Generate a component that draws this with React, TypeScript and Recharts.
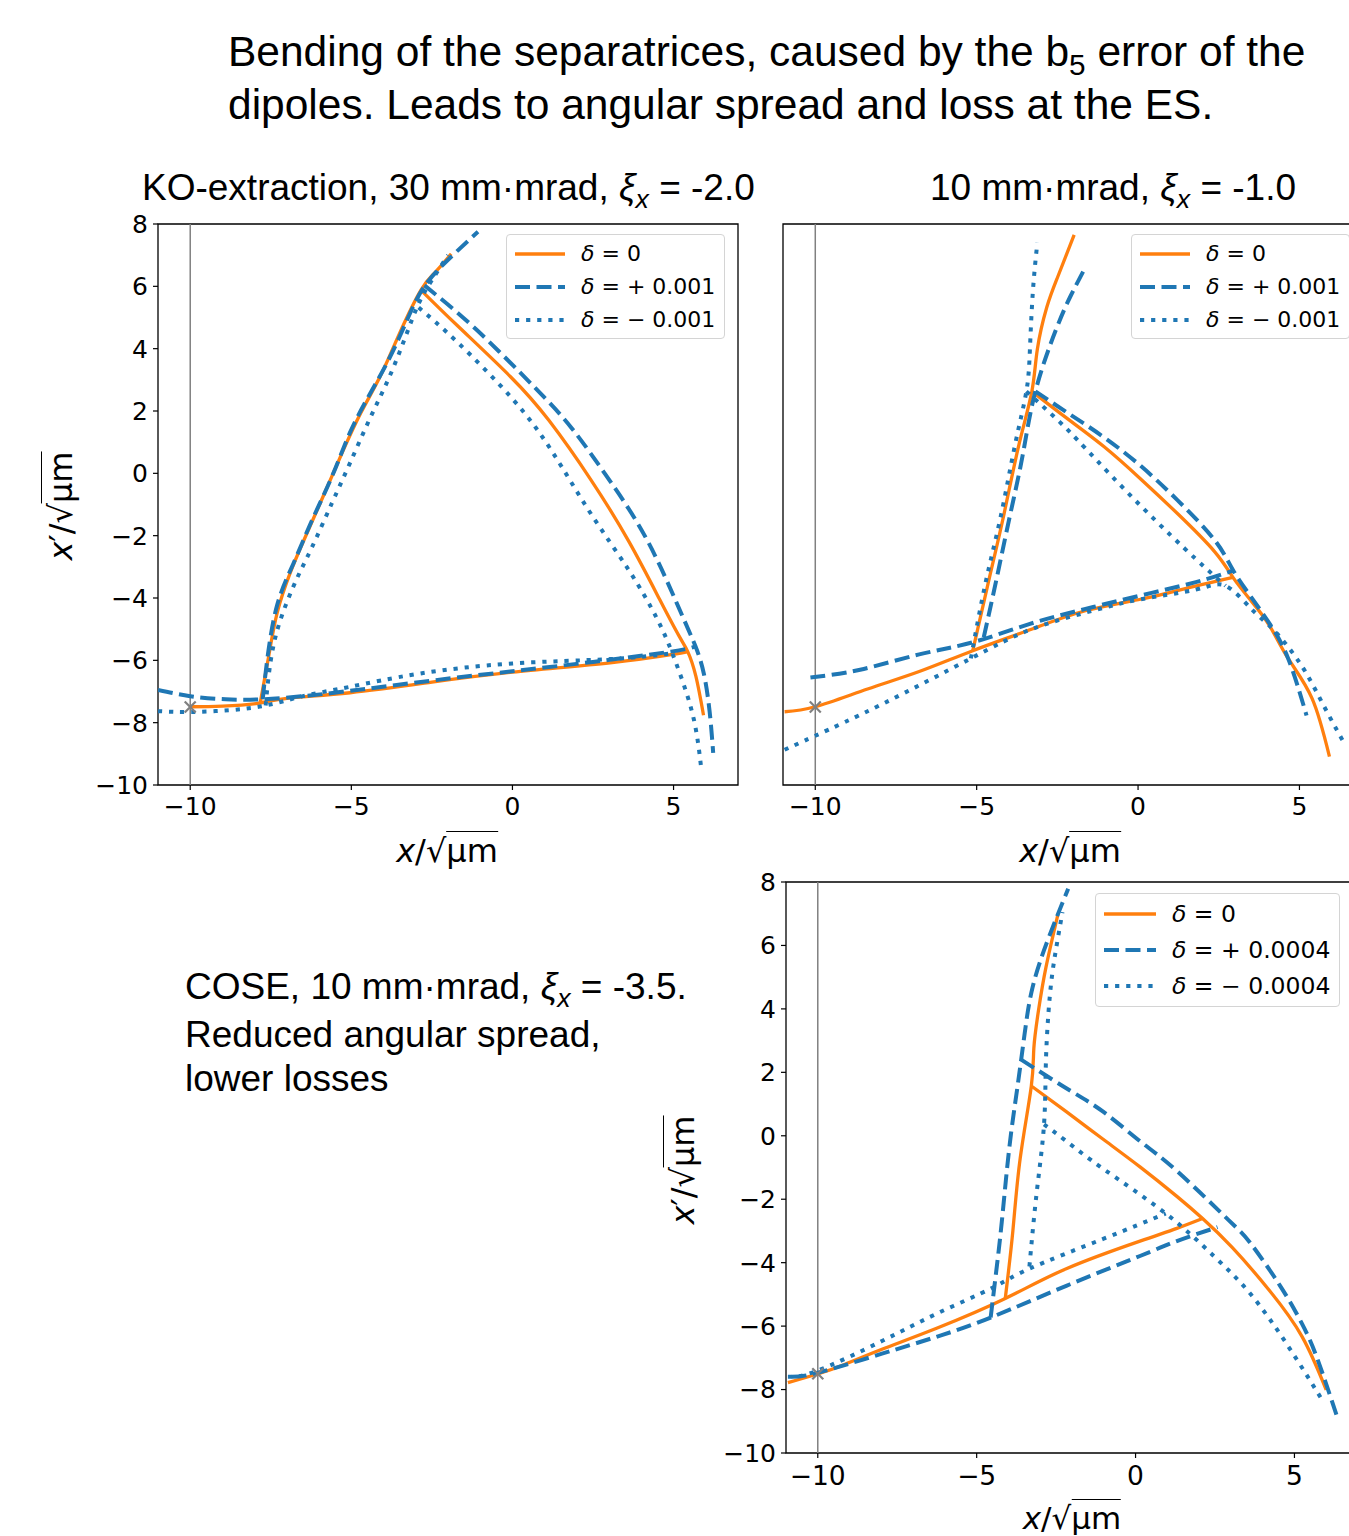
import React from 'react';
import {
  ComposedChart,
  Line,
  Scatter,
  XAxis,
  YAxis,
  ReferenceLine,
  ReferenceArea
} from 'recharts';

// axis ticks shared by all three panels
const X_TICKS = [-10, -5, 0, 5];
const Y_TICKS = [-10, -8, -6, -4, -2, 0, 2, 4, 6, 8];
const X_DOMAIN = [-11, 7];
const Y_DOMAIN = [-10, 8];

// the electrostatic septum position (grey cross)
const ES_MARK = [[-10, -7.5]];

const LEGEND_KO = ['0', '+ 0.001', '− 0.001'];
const LEGEND_COSE = ['0', '+ 0.0004', '− 0.0004'];

// --- KO-extraction, 30 mm·mrad, xi = -2.0 ---
const koZeroLower = [[-10, -7.49], [-9, -7.47], [-7.9, -7.38], [-7, -7.22], [-5.04, -7.04], [-2.5, -6.7], [0, -6.38], [3.03, -6.08], [4.92, -5.82], [5.44, -5.72]];
const koZeroLeft = [[-7.83, -7.38], [-7.57, -5.9], [-7.3, -4.47], [-6.9, -3.2], [-6.47, -2.14], [-5.9, -0.8], [-5.28, 0.67], [-4.7, 1.95], [-4.1, 3.12], [-3.5, 4.5], [-2.84, 5.88], [-2.4, 6.45], [-1.9, 7.04]];
const koZeroRight = [[-2.84, 5.88], [-1.72, 4.75], [-0.06, 3.1], [1.13, 1.7], [2.43, -0.2], [3.62, -2.2], [4.57, -4.05], [5.16, -5.2], [5.44, -5.72], [5.69, -6.5], [5.93, -7.76]];

const koPlusLower = [[-11, -6.95], [-10, -7.15], [-8.9, -7.25], [-7.75, -7.25], [-6.5, -7.15], [-5.05, -6.98], [-2.5, -6.65], [0, -6.35], [2.5, -6.05], [4.92, -5.72], [5.68, -5.55]];
const koPlusLeft = [[-7.75, -7.25], [-7.6, -5.9], [-7.3, -4.22], [-6.8, -2.9], [-6.23, -1.53], [-5.6, -0.1], [-5.05, 1.29], [-4.45, 2.5], [-3.86, 3.61], [-3.3, 4.85], [-2.73, 6.0], [-1.9, 6.95], [-1.07, 7.75]];
const koPlusRight = [[-2.73, 6.03], [-1.13, 4.62], [0.65, 2.8], [1.84, 1.45], [3.03, -0.25], [4.21, -2.2], [5.22, -4.45], [5.68, -5.55], [5.94, -6.43], [6.12, -7.65], [6.23, -8.97]];

const koMinusLower = [[-11, -7.63], [-10, -7.66], [-8.8, -7.6], [-7.66, -7.45], [-6.5, -7.15], [-5.05, -6.85], [-2.91, -6.43], [0, -6.1], [3.03, -5.96], [4.93, -5.78]];
const koMinusLeft = [[-7.66, -7.45], [-7.5, -6.0], [-7.2, -4.7], [-6.7, -3.4], [-6.23, -2.39], [-5.6, -0.95], [-5.05, 0.31], [-4.45, 1.7], [-3.86, 3.0], [-3.35, 4.3], [-2.91, 5.45], [-2.5, 6.2], [-2.0, 7.0]];
const koMinusRight = [[-2.91, 5.32], [-1.72, 4.22], [0, 2.39], [1.25, 0.67], [2.43, -1.29], [3.62, -3.12], [4.45, -4.59], [4.93, -5.69], [5.4, -7.04], [5.7, -8.26], [5.87, -9.57]];

// --- 10 mm·mrad, xi = -1.0 ---
const tenZeroLower = [[-10.95, -7.65], [-10, -7.49], [-8.38, -6.92], [-6.78, -6.36], [-5.12, -5.69], [-3.35, -5.02], [-1.63, -4.41], [0.08, -4.04], [1.34, -3.73], [2.94, -3.34]];
const tenZeroLeft = [[-5.12, -5.69], [-4.61, -3.37], [-4.15, -1.29], [-3.69, 0.92], [-3.29, 2.63], [-3.12, 3.98], [-2.83, 5.32], [-2.49, 6.3], [-1.98, 7.65]];
const tenZeroRight = [[-3.29, 2.63], [-2.21, 1.77], [-1.06, 0.86], [0.08, -0.18], [1.22, -1.29], [2.37, -2.51], [2.94, -3.34], [3.51, -4.1], [4.08, -4.9], [4.65, -5.94], [5.39, -7.22], [5.93, -9.09]];

const tenPlusLower = [[-10.15, -6.55], [-8.61, -6.3], [-6.78, -5.81], [-5.12, -5.42], [-3.35, -4.83], [-1.63, -4.35], [0.08, -3.92], [1.79, -3.49], [2.94, -3.12]];
const tenPlusLeft = [[-4.78, -5.26], [-4.38, -3.37], [-3.98, -1.41], [-3.58, 0.55], [-3.18, 2.63], [-2.55, 4.59], [-2.09, 5.69], [-1.63, 6.61]];
const tenPlusRight = [[-3.18, 2.63], [-2.21, 1.96], [-1.06, 1.16], [0.08, 0.24], [1.22, -0.86], [2.37, -2.14], [2.94, -3.1], [3.51, -3.98], [4.08, -4.83], [4.65, -5.94], [5.22, -7.77]];

const tenMinusLower = [[-10.95, -8.87], [-10, -8.42], [-7.92, -7.4], [-5.18, -5.94], [-3.35, -5.02], [-1.63, -4.47], [0.08, -4.04], [1.79, -3.73], [2.71, -3.61], [3.51, -4.35], [4.08, -4.9], [4.65, -5.57], [5.22, -6.43], [5.79, -7.53], [6.37, -8.63]];
const tenMinusLeft = [[-5.18, -5.94], [-4.72, -3.49], [-4.26, -1.41], [-3.81, 0.92], [-3.46, 2.63], [-3.35, 3.98], [-3.26, 5.81], [-3.12, 7.4]];
const tenMinusRight = [[-3.46, 2.63], [-2.43, 1.65], [-1.63, 0.8], [0.08, -1.04], [1.79, -2.75], [2.71, -3.61]];

// --- COSE, 10 mm·mrad, xi = -3.5 ---
const coseZeroLower = [[-10.94, -7.78], [-10, -7.51], [-9.14, -7.2], [-7.98, -6.73], [-6.24, -6.06], [-4.1, -5.13], [-2.18, -4.19], [0.14, -3.32], [1.3, -2.92], [2.11, -2.61]];
const coseZeroLeft = [[-4.1, -5.13], [-3.86, -2.99], [-3.63, -0.71], [-3.28, 1.57], [-3.2, 2.77], [-3.05, 3.98], [-2.82, 5.31], [-2.44, 6.99]];
const coseZeroRight = [[-3.28, 1.57], [-2.18, 0.76], [-1.02, -0.11], [0.14, -0.98], [1.3, -1.91], [2.11, -2.61], [3.04, -3.52], [4.2, -4.86], [5.24, -6.33], [6.0, -8.01]];

const cosePlusLower = [[-10.82, -7.6], [-10, -7.47], [-7.98, -6.87], [-6.24, -6.33], [-4.56, -5.73], [-2.18, -4.73], [0.14, -3.79], [1.3, -3.32], [2.58, -2.88]];
const cosePlusLeft = [[-4.56, -5.73], [-4.39, -4.32], [-4.21, -2.72], [-3.98, -0.44], [-3.75, 1.3], [-3.6, 2.4], [-3.46, 3.44], [-3.28, 4.51], [-2.88, 5.85], [-2.12, 7.79]];
const cosePlusRight = [[-3.6, 2.4], [-2.18, 1.5], [-1.02, 0.76], [0.14, -0.17], [1.3, -1.11], [2.92, -2.65], [3.62, -3.39], [4.55, -4.73], [5.24, -5.93], [5.71, -7.0], [6.35, -8.88]];

const coseMinusLower = [[-10.94, -7.6], [-10, -7.4], [-7.98, -6.47], [-6.24, -5.6], [-4.5, -4.79], [-3.34, -4.19], [-1.02, -3.25], [0.95, -2.45]];
const coseMinusLeft = [[-3.34, -4.12], [-3.11, -1.78], [-2.88, 0.36], [-2.82, 2.37], [-2.7, 4.38], [-2.53, 5.72], [-2.3, 7.05]];
const coseMinusRight = [[-2.88, 0.36], [-2.18, -0.17], [-1.02, -1.04], [0.95, -2.45], [2.46, -3.79], [3.62, -4.99], [4.78, -6.6], [5.88, -8.34]];

const ORANGE = '#ff7f0e';
const BLUE = '#1f77b4';
const GREY = '#808080';
const DASH = '15 6.5';
const DOT = '4.2 6.9';

const toPts = (a: number[][]) => a.map(([x, y]) => ({ x, y }));

const fmtTick = (v: number) => (v < 0 ? `−${-v}` : `${v}`);

const XMark = (p: any) => {
  const { cx, cy } = p;
  const s = 5.5;
  return (
    <g stroke={GREY} strokeWidth={2.2}>
      <line x1={cx - s} y1={cy - s} x2={cx + s} y2={cy + s} />
      <line x1={cx - s} y1={cy + s} x2={cx + s} y2={cy - s} />
    </g>
  );
};

interface PanelProps {
  left: number;
  top: number;
  plotW: number;
  plotH: number;
  yAxisW: number;
  showYLabels: boolean;
  xTickSize: number;
  xTickMargin: number;
  zero: number[][][];
  plus: number[][][];
  minus: number[][][];
}

function Panel({ left, top, plotW, plotH, yAxisW, showYLabels, xTickSize, xTickMargin, zero, plus, minus }: PanelProps) {
  const margin = { top: 20, right: 10, left: 0, bottom: 0 };
  const xAxisH = 50;
  const width = yAxisW + plotW + margin.right;
  const height = margin.top + plotH + xAxisH;
  const tickStyle = { fill: '#000', fontSize: 25, fontFamily: 'DejaVu Sans' };
  return (
    <div style={{ position: 'absolute', left: left - yAxisW, top: top - margin.top }}>
      <ComposedChart width={width} height={height} margin={margin}>
        <XAxis
          type="number"
          dataKey="x"
          domain={X_DOMAIN}
          ticks={X_TICKS}
          interval={0}
          allowDataOverflow
          height={xAxisH}
          tickSize={5}
          tickMargin={xTickMargin}
          tickFormatter={fmtTick}
          axisLine={false}
          tickLine={{ stroke: '#000', strokeWidth: 1.2 }}
          tick={{ ...tickStyle, fontSize: xTickSize }}
        />
        <YAxis
          type="number"
          dataKey="y"
          domain={Y_DOMAIN}
          ticks={Y_TICKS}
          interval={0}
          allowDataOverflow
          width={yAxisW}
          tickSize={5}
          tickMargin={5}
          tickFormatter={fmtTick}
          axisLine={false}
          tickLine={{ stroke: '#000', strokeWidth: 1.2 }}
          tick={showYLabels ? tickStyle : false}
        />
        <ReferenceLine x={-10} stroke={GREY} strokeWidth={1.5} />
        {zero.map((arm, i) => (
          <Line
            key={`z${i}`}
            data={toPts(arm)}
            dataKey="y"
            type="natural"
            stroke={ORANGE}
            strokeWidth={3.3}
            dot={false}
            activeDot={false}
            isAnimationActive={false}
          />
        ))}
        {plus.map((arm, i) => (
          <Line
            key={`p${i}`}
            data={toPts(arm)}
            dataKey="y"
            type="natural"
            stroke={BLUE}
            strokeWidth={4}
            strokeDasharray={DASH}
            dot={false}
            activeDot={false}
            isAnimationActive={false}
          />
        ))}
        {minus.map((arm, i) => (
          <Line
            key={`m${i}`}
            data={toPts(arm)}
            dataKey="y"
            type="natural"
            stroke={BLUE}
            strokeWidth={4}
            strokeDasharray={DOT}
            dot={false}
            activeDot={false}
            isAnimationActive={false}
          />
        ))}
        <Scatter data={toPts(ES_MARK)} dataKey="y" shape={XMark} isAnimationActive={false} />
        <ReferenceArea
          x1={X_DOMAIN[0]}
          x2={X_DOMAIN[1]}
          y1={Y_DOMAIN[0]}
          y2={Y_DOMAIN[1]}
          fill="none"
          fillOpacity={0}
          stroke="#000"
          strokeWidth={1.3}
        />
      </ComposedChart>
    </div>
  );
}

function LegendBox({ left, top, labels, fontSize, rowGap, lineW }: { left: number; top: number; labels: string[]; fontSize: number; rowGap: number; lineW: number }) {
  const styles = [
    { stroke: ORANGE, w: 3.3, dash: undefined },
    { stroke: BLUE, w: 4, dash: DASH },
    { stroke: BLUE, w: 4, dash: DOT }
  ];
  return (
    <div
      style={{
        position: 'absolute',
        left,
        top,
        padding: '2px 9px 2px 8px',
        border: '1px solid #d4d4d4',
        borderRadius: 4,
        background: 'rgba(255,255,255,0.85)',
        fontFamily: 'DejaVu Sans',
        fontSize,
        lineHeight: `${rowGap}px`,
        whiteSpace: 'nowrap'
      }}
    >
      {labels.map((lab, i) => (
        <div key={lab} style={{ display: 'flex', alignItems: 'center', height: rowGap }}>
          <svg width={lineW} height={10} style={{ marginRight: 16 }}>
            <line x1={0} y1={5} x2={lineW} y2={5} stroke={styles[i].stroke} strokeWidth={styles[i].w} strokeDasharray={styles[i].dash} />
          </svg>
          <span>
            <i>δ</i>
            {i === 0 ? ' = ' : ' =  '}
            {lab}
          </span>
        </div>
      ))}
    </div>
  );
}

function AxisLabel({ prime, fontSize }: { prime?: boolean; fontSize: number }) {
  return (
    <span style={{ fontFamily: 'DejaVu Sans', fontSize, whiteSpace: 'nowrap' }}>
      <i>x</i>
      {prime ? '′' : ''}/√
      <span style={{ borderTop: '1.6px solid #000' }}>μm</span>
    </span>
  );
}

const Xi = () => (
  <span>
    <i>ξ</i>
    <i style={{ fontSize: '0.72em', position: 'relative', top: '0.3em' }}>x</i>
  </span>
);

export default function App() {
  return (
    <div
      style={{
        position: 'absolute',
        left: 0,
        top: 0,
        width: 1349,
        height: 1536,
        overflow: 'hidden',
        background: '#fff',
        fontFamily: '"Liberation Sans", Arial, sans-serif',
        color: '#000'
      }}
    >
      <div style={{ position: 'absolute', left: 228, top: 27, fontSize: 42.5, lineHeight: '49px', whiteSpace: 'nowrap' }}>
        <div>
          Bending of the separatrices, caused by the b
          <span style={{ fontSize: '0.7em', position: 'relative', top: '0.3em' }}>5</span> error of the
        </div>
        <div>dipoles. Leads to angular spread and loss at the ES.</div>
      </div>

      <div style={{ position: 'absolute', left: 142, top: 169, fontSize: 37, lineHeight: '37px', whiteSpace: 'nowrap' }}>
        KO-extraction, 30 mm·mrad, <Xi /> = -2.0
      </div>
      <div style={{ position: 'absolute', left: 930, top: 169, fontSize: 37, lineHeight: '37px', whiteSpace: 'nowrap' }}>
        10 mm·mrad, <Xi /> = -1.0
      </div>
      <div style={{ position: 'absolute', left: 185, top: 965, fontSize: 37, lineHeight: '44.5px', whiteSpace: 'nowrap' }}>
        <div>
          COSE, 10 mm·mrad, <Xi /> = -3.5.
        </div>
        <div>Reduced angular spread,</div>
        <div>lower losses</div>
      </div>

      <Panel left={157.5} top={224} plotW={580} plotH={561} yAxisW={70} showYLabels xTickSize={25} xTickMargin={7}
        zero={[koZeroLower, koZeroLeft, koZeroRight]}
        plus={[koPlusLower, koPlusLeft, koPlusRight]}
        minus={[koMinusLower, koMinusLeft, koMinusRight]} />
      <Panel left={783} top={224} plotW={581} plotH={561} yAxisW={10} showYLabels={false} xTickSize={25} xTickMargin={7}
        zero={[tenZeroLower, tenZeroLeft, tenZeroRight]}
        plus={[tenPlusLower, tenPlusLeft, tenPlusRight]}
        minus={[tenMinusLower, tenMinusLeft, tenMinusRight]} />
      <Panel left={785.5} top={882} plotW={572} plotH={571} yAxisW={70} showYLabels xTickSize={26.5} xTickMargin={8}
        zero={[coseZeroLower, coseZeroLeft, coseZeroRight]}
        plus={[cosePlusLower, cosePlusLeft, cosePlusRight]}
        minus={[coseMinusLower, coseMinusLeft, coseMinusRight]} />

      <LegendBox left={506} top={234} labels={LEGEND_KO} fontSize={22} rowGap={33} lineW={50} />
      <LegendBox left={1131} top={234} labels={LEGEND_KO} fontSize={22} rowGap={33} lineW={50} />
      <LegendBox left={1095} top={893} labels={LEGEND_COSE} fontSize={23.5} rowGap={36} lineW={52} />

      <div style={{ position: 'absolute', left: 447, top: 851, transform: 'translate(-50%, -50%)' }}>
        <AxisLabel fontSize={32} />
      </div>
      <div style={{ position: 'absolute', left: 1070, top: 851, transform: 'translate(-50%, -50%)' }}>
        <AxisLabel fontSize={32} />
      </div>
      <div style={{ position: 'absolute', left: 1072, top: 1518, transform: 'translate(-50%, -50%)' }}>
        <AxisLabel fontSize={31} />
      </div>
      <div style={{ position: 'absolute', left: 61, top: 506, transform: 'translate(-50%, -50%) rotate(-90deg)' }}>
        <AxisLabel prime fontSize={32} />
      </div>
      <div style={{ position: 'absolute', left: 683, top: 1170, transform: 'translate(-50%, -50%) rotate(-90deg)' }}>
        <AxisLabel prime fontSize={32} />
      </div>
    </div>
  );
}
